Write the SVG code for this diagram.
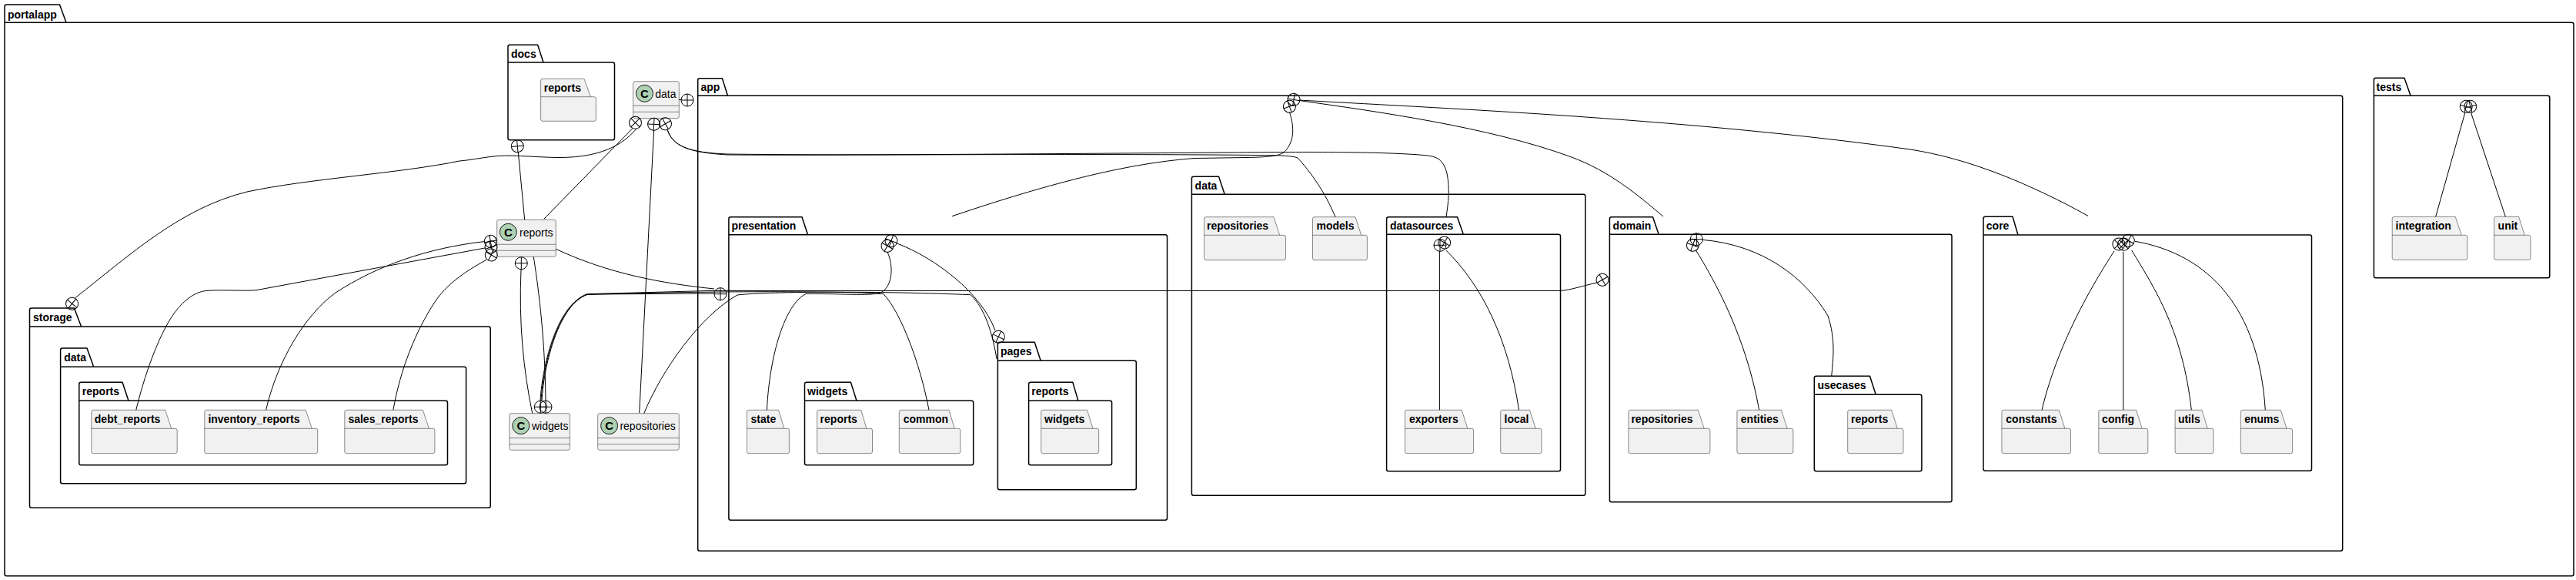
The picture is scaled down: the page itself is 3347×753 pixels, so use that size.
<svg xmlns="http://www.w3.org/2000/svg" width="3347" height="753" viewBox="0 0 3347 753">
<style>
.pkg{fill:#fff;stroke:#000;stroke-width:1.5;stroke-linejoin:round}
.leaf{fill:#F1F1F1;stroke:#181818;stroke-width:.5;stroke-linejoin:round}
.cls{fill:#F1F1F1;stroke:#181818;stroke-width:.5}
.div{fill:none;stroke:#181818;stroke-width:.5}
.spot{fill:#ADD1B2;stroke:#181818;stroke-width:1}
.pl{font:bold 14px "Liberation Sans",Arial,sans-serif;fill:#000;opacity:.999}
.cl{font:14px "Liberation Sans",Arial,sans-serif;fill:#000;opacity:.999}
.sp{font:bold 15px "Liberation Sans",Arial,sans-serif;fill:#000;text-anchor:middle;opacity:.999}
#connectors path{fill:none;stroke:#000;stroke-width:1}
#connectors circle{fill:none;stroke:#000;stroke-width:1}
</style>
<defs><g id="plus"><circle r="8"/><path d="M-8 0H8M0-8V8"/></g></defs>

<g id="pkg-portalapp"><path class="pkg" d="M6 8.5Q6 6 8.500 6H77.500L86 29.300H3341.500Q3344 29.300 3344 31.800V745.200Q3344 747.700 3341.500 747.700H8.500Q6 747.700 6 745.200ZM6 29.300H86"/><text class="pl" x="10" y="23.500">portalapp</text></g>
<g id="pkg-docs"><path class="pkg" d="M660 60.800Q660 58.300 662.500 58.300H698.600L706 81H796Q798.500 81 798.500 83.500V179.200Q798.500 181.700 796 181.700H662.500Q660 181.700 660 179.200ZM660 81H706"/><text class="pl" x="664" y="75">docs</text></g>
<g id="pkg-docs-reports"><path class="leaf" d="M702.600 104.800Q702.600 102.300 705.100 102.300H759L767.500 125.700H771.900Q774.400 125.700 774.400 128.200V154.800Q774.400 157.300 771.900 157.300H705.100Q702.600 157.300 702.600 154.800ZM702.600 125.700H767.500"/><text class="pl" x="706.700" y="119">reports</text></g>

<g id="cls-data"><rect class="cls" x="822.600" y="105.700" width="59.700" height="48" rx="2.500"/><path class="div" d="M822.600 137.300H882.300M822.600 145.300H882.300"/><circle class="spot" cx="837.500" cy="121.300" r="11"/><text class="sp" x="837.500" y="126.800">C</text><text class="cl" x="851.300" y="127">data</text></g>
<g id="cls-reports"><rect class="cls" x="645.700" y="285.300" width="76.600" height="48" rx="2.500"/><path class="div" d="M645.700 317.300H722.300M645.700 325.300H722.300"/><circle class="spot" cx="660.300" cy="301.300" r="11"/><text class="sp" x="660.300" y="306.800">C</text><text class="cl" x="675" y="306.700">reports</text></g>
<g id="cls-widgets"><rect class="cls" x="661.900" y="536.700" width="78.600" height="47.600" rx="2.500"/><path class="div" d="M661.900 568.700H740.500M661.900 576.700H740.500"/><circle class="spot" cx="676.800" cy="552.700" r="11"/><text class="sp" x="676.800" y="558.200">C</text><text class="cl" x="691" y="558">widgets</text></g>
<g id="cls-repositories"><rect class="cls" x="776.700" y="536.700" width="105.600" height="47.600" rx="2.500"/><path class="div" d="M776.700 568.700H882.300M776.700 576.700H882.300"/><circle class="spot" cx="791.600" cy="552.700" r="11"/><text class="sp" x="791.600" y="558.200">C</text><text class="cl" x="805.400" y="558">repositories</text></g>

<g id="pkg-storage"><path class="pkg" d="M38.500 402.500Q38.500 400 41 400H96.400L105.600 424H634.700Q637.200 424 637.200 426.500V656.800Q637.200 659.300 634.700 659.300H41Q38.500 659.300 38.500 656.800ZM38.500 424H105.600"/><text class="pl" x="43" y="417">storage</text></g>
<g id="pkg-storage-data"><path class="pkg" d="M78.600 454.500Q78.600 452 81.100 452H113L121.700 476.300H603.100Q605.600 476.300 605.600 478.800V625.200Q605.600 627.700 603.100 627.700H81.100Q78.600 627.700 78.600 625.200ZM78.600 476.300H121.700"/><text class="pl" x="83.200" y="469">data</text></g>
<g id="pkg-storage-data-reports"><path class="pkg" d="M102.800 498.800Q102.800 496.300 105.300 496.300H159L167 520.300H579Q581.500 520.300 581.500 522.800V601.200Q581.500 603.700 579 603.700H105.300Q102.800 603.700 102.800 601.200ZM102.800 520.300H167"/><text class="pl" x="106.800" y="513">reports</text></g>
<g id="pkg-debt_reports"><path class="leaf" d="M118.800 534.800Q118.800 532.300 121.300 532.300H214.700L222.700 556.300H227.700Q230.200 556.300 230.200 558.800V586.200Q230.200 588.700 227.700 588.700H121.300Q118.800 588.700 118.800 586.200ZM118.800 556.300H222.700"/><text class="pl" x="122.800" y="548.500">debt_reports</text></g>
<g id="pkg-inventory_reports"><path class="leaf" d="M265.800 534.800Q265.800 532.300 268.300 532.300H397.200L405.300 556.300H410.200Q412.700 556.300 412.700 558.800V586.200Q412.700 588.700 410.200 588.700H268.300Q265.800 588.700 265.800 586.200ZM265.800 556.300H405.300"/><text class="pl" x="270.400" y="548.500">inventory_reports</text></g>
<g id="pkg-sales_reports"><path class="leaf" d="M447.800 534.800Q447.800 532.300 450.300 532.300H549.400L557.400 556.300H562.400Q564.900 556.300 564.900 558.800V586.200Q564.900 588.700 562.400 588.700H450.300Q447.800 588.700 447.800 586.200ZM447.800 556.300H557.400"/><text class="pl" x="452.400" y="548.500">sales_reports</text></g>

<g id="pkg-app"><path class="pkg" d="M906.700 104.200Q906.700 101.700 909.200 101.700H938.400L945.500 124.300H3041.200Q3043.700 124.300 3043.700 126.800V712.800Q3043.700 715.300 3041.200 715.300H909.200Q906.700 715.300 906.700 712.800ZM906.700 124.300H945.500"/><text class="pl" x="910.500" y="118">app</text></g>
<g id="pkg-presentation"><path class="pkg" d="M946.900 284.200Q946.900 281.700 949.400 281.700H1042L1049.600 304.700H1514Q1516.500 304.700 1516.500 307.200V672.800Q1516.500 675.300 1514 675.300H949.400Q946.900 675.300 946.900 672.800ZM946.900 304.700H1049.600"/><text class="pl" x="950.400" y="298.300">presentation</text></g>
<g id="pkg-state"><path class="leaf" d="M970.500 534.800Q970.500 532.300 973 532.300H1011.600L1018.800 556.300H1022.900Q1025.400 556.300 1025.400 558.800V586.200Q1025.400 588.700 1022.900 588.700H973Q970.500 588.700 970.500 586.200ZM970.500 556.300H1018.800"/><text class="pl" x="975.500" y="548.500">state</text></g>
<g id="pkg-presentation-widgets"><path class="pkg" d="M1045.500 498.800Q1045.500 496.300 1048 496.300H1105.400L1113 520.300H1262.200Q1264.700 520.300 1264.700 522.800V601.200Q1264.700 603.700 1262.200 603.700H1048Q1045.500 603.700 1045.500 601.200ZM1045.500 520.300H1113"/><text class="pl" x="1049.100" y="513">widgets</text></g>
<g id="pkg-presentation-widgets-reports"><path class="leaf" d="M1061.600 534.800Q1061.600 532.300 1064.100 532.300H1118.800L1125.900 556.300H1131Q1133.500 556.300 1133.500 558.800V586.200Q1133.500 588.700 1131 588.700H1064.100Q1061.600 588.700 1061.600 586.200ZM1061.600 556.300H1125.900"/><text class="pl" x="1065.600" y="548.500">reports</text></g>
<g id="pkg-common"><path class="leaf" d="M1168.300 534.800Q1168.300 532.300 1170.800 532.300H1233L1240.200 556.300H1245.300Q1247.800 556.300 1247.800 558.800V586.200Q1247.800 588.700 1245.300 588.700H1170.800Q1168.300 588.700 1168.300 586.200ZM1168.300 556.300H1240.200"/><text class="pl" x="1173.700" y="548.500">common</text></g>
<g id="pkg-pages"><path class="pkg" d="M1296.400 446.800Q1296.400 444.300 1298.900 444.300H1344.200L1352.200 468.300H1473.800Q1476.300 468.300 1476.300 470.800V633.200Q1476.300 635.700 1473.800 635.700H1298.900Q1296.400 635.700 1296.400 633.200ZM1296.400 468.300H1352.200"/><text class="pl" x="1300" y="461">pages</text></g>
<g id="pkg-pages-reports"><path class="pkg" d="M1336.600 498.800Q1336.600 496.300 1339.100 496.300H1393.800L1400.900 520.300H1442.100Q1444.600 520.300 1444.600 522.800V601.200Q1444.600 603.700 1442.100 603.700H1339.100Q1336.600 603.700 1336.600 601.200ZM1336.600 520.300H1400.900"/><text class="pl" x="1340.200" y="513">reports</text></g>
<g id="pkg-pages-reports-widgets"><path class="leaf" d="M1352.700 534.800Q1352.700 532.300 1355.200 532.300H1412.500L1420 556.300H1425.200Q1427.700 556.300 1427.700 558.800V586.200Q1427.700 588.700 1425.200 588.700H1355.200Q1352.700 588.700 1352.700 586.200ZM1352.700 556.300H1420"/><text class="pl" x="1357.100" y="548.500">widgets</text></g>

<g id="pkg-app-data"><path class="pkg" d="M1548.400 231.800Q1548.400 229.300 1550.900 229.300H1583.500L1591.200 252.300H2057.300Q2059.800 252.300 2059.800 254.800V640.800Q2059.800 643.300 2057.300 643.300H1550.900Q1548.400 643.300 1548.400 640.800ZM1548.400 252.300H1591.200"/><text class="pl" x="1552.600" y="246">data</text></g>
<g id="pkg-data-repositories"><path class="leaf" d="M1564.500 284.200Q1564.500 281.700 1567 281.700H1655L1662.700 305.300H1668Q1670.500 305.300 1670.500 307.800V335.200Q1670.500 337.700 1668 337.700H1567Q1564.500 337.700 1564.500 335.200ZM1564.500 305.300H1662.700"/><text class="pl" x="1568" y="297.700">repositories</text></g>
<g id="pkg-models"><path class="leaf" d="M1705.500 284.200Q1705.500 281.700 1708 281.700H1761L1768.700 305.300H1773.900Q1776.400 305.300 1776.400 307.800V335.200Q1776.400 337.700 1773.900 337.700H1708Q1705.500 337.700 1705.500 335.200ZM1705.500 305.300H1768.700"/><text class="pl" x="1710.500" y="297.700">models</text></g>
<g id="pkg-datasources"><path class="pkg" d="M1801.600 284.200Q1801.600 281.700 1804.100 281.700H1893.500L1901.300 304.300H2025Q2027.500 304.300 2027.500 306.800V609.200Q2027.500 611.700 2025 611.700H1804.100Q1801.600 611.700 1801.600 609.200ZM1801.600 304.300H1901.300"/><text class="pl" x="1805.900" y="297.700">datasources</text></g>
<g id="pkg-exporters"><path class="leaf" d="M1825.500 534.800Q1825.500 532.300 1828 532.300H1899.200L1906.900 556.300H1912.100Q1914.600 556.300 1914.600 558.800V586.200Q1914.600 588.700 1912.100 588.700H1828Q1825.500 588.700 1825.500 586.200ZM1825.500 556.300H1906.900"/><text class="pl" x="1831" y="548.500">exporters</text></g>
<g id="pkg-local"><path class="leaf" d="M1949.700 534.800Q1949.700 532.300 1952.200 532.300H1987.500L1995.300 556.300H2000.500Q2003 556.300 2003 558.800V586.200Q2003 588.700 2000.500 588.700H1952.200Q1949.700 588.700 1949.700 586.200ZM1949.700 556.300H1995.300"/><text class="pl" x="1954.600" y="548.500">local</text></g>

<g id="pkg-domain"><path class="pkg" d="M2091.400 284.200Q2091.400 281.700 2093.900 281.700H2147.500L2155.200 304.300H2533.500Q2536 304.300 2536 306.800V649.200Q2536 651.700 2533.500 651.700H2093.900Q2091.400 651.700 2091.400 649.200ZM2091.400 304.300H2155.200"/><text class="pl" x="2095.600" y="297.700">domain</text></g>
<g id="pkg-domain-repositories"><path class="leaf" d="M2115.900 534.800Q2115.900 532.300 2118.400 532.300H2206.400L2214.100 556.300H2219.400Q2221.900 556.300 2221.900 558.800V586.200Q2221.900 588.700 2219.400 588.700H2118.400Q2115.900 588.700 2115.900 586.200ZM2115.900 556.300H2214.100"/><text class="pl" x="2119.400" y="548.500">repositories</text></g>
<g id="pkg-entities"><path class="leaf" d="M2256.900 534.800Q2256.900 532.300 2259.400 532.300H2314.400L2322.200 556.300H2327.400Q2329.900 556.300 2329.900 558.800V586.200Q2329.900 588.700 2327.400 588.700H2259.400Q2256.900 588.700 2256.900 586.200ZM2256.900 556.300H2322.200"/><text class="pl" x="2261.800" y="548.500">entities</text></g>
<g id="pkg-usecases"><path class="pkg" d="M2357.300 490.800Q2357.300 488.300 2359.800 488.300H2429.500L2437.200 512.300H2494.400Q2496.900 512.300 2496.900 514.800V609.200Q2496.900 611.700 2494.400 611.700H2359.800Q2357.300 611.700 2357.300 609.200ZM2357.300 512.300H2437.200"/><text class="pl" x="2361.500" y="505">usecases</text></g>
<g id="pkg-usecases-reports"><path class="leaf" d="M2400.700 534.800Q2400.700 532.300 2403.200 532.300H2457.600L2465.300 556.300H2470.500Q2473 556.300 2473 558.800V586.200Q2473 588.700 2470.500 588.700H2403.200Q2400.700 588.700 2400.700 586.200ZM2400.700 556.300H2465.300"/><text class="pl" x="2405" y="548.500">reports</text></g>

<g id="pkg-core"><path class="pkg" d="M2577 283.800Q2577 281.300 2579.500 281.300H2615L2622 305H3001Q3003.500 305 3003.500 307.500V608.800Q3003.500 611.300 3001 611.300H2579.500Q2577 611.300 2577 608.800ZM2577 305H2622"/><text class="pl" x="2580.800" y="297.700">core</text></g>
<g id="pkg-constants"><path class="leaf" d="M2600.900 534.800Q2600.900 532.300 2603.400 532.300H2675.300L2682.900 556.300H2688Q2690.500 556.300 2690.500 558.800V586.200Q2690.500 588.700 2688 588.700H2603.400Q2600.900 588.700 2600.900 586.200ZM2600.900 556.300H2682.900"/><text class="pl" x="2606.300" y="548.500">constants</text></g>
<g id="pkg-config"><path class="leaf" d="M2726.800 534.800Q2726.800 532.300 2729.300 532.300H2775.600L2783.200 556.300H2788.300Q2790.800 556.300 2790.800 558.800V586.200Q2790.800 588.700 2788.300 588.700H2729.300Q2726.800 588.700 2726.800 586.200ZM2726.800 556.300H2783.200"/><text class="pl" x="2731.100" y="548.500">config</text></g>
<g id="pkg-utils"><path class="leaf" d="M2826.100 534.800Q2826.100 532.300 2828.600 532.300H2860.800L2868.400 556.300H2873.500Q2876 556.300 2876 558.800V586.200Q2876 588.700 2873.500 588.700H2828.600Q2826.100 588.700 2826.100 586.200ZM2826.100 556.300H2868.400"/><text class="pl" x="2829.900" y="548.500">utils</text></g>
<g id="pkg-enums"><path class="leaf" d="M2911.300 534.800Q2911.300 532.300 2913.800 532.300H2963.400L2971 556.300H2976.100Q2978.600 556.300 2978.600 558.800V586.200Q2978.600 588.700 2976.100 588.700H2913.800Q2911.300 588.700 2911.300 586.200ZM2911.300 556.300H2971"/><text class="pl" x="2916.200" y="548.500">enums</text></g>

<g id="pkg-tests"><path class="pkg" d="M3084.400 103.800Q3084.400 101.300 3086.900 101.300H3124L3132.100 124.300H3310.300Q3312.800 124.300 3312.800 126.800V358.200Q3312.800 360.700 3310.300 360.700H3086.900Q3084.400 360.700 3084.400 358.200ZM3084.400 124.300H3132.100"/><text class="pl" x="3087.600" y="117.700">tests</text></g>
<g id="pkg-integration"><path class="leaf" d="M3108.200 283.800Q3108.200 281.300 3110.700 281.300H3190.200L3198.300 305.300H3203.400Q3205.900 305.300 3205.900 307.800V334.800Q3205.900 337.300 3203.400 337.300H3110.700Q3108.200 337.300 3108.200 334.800ZM3108.200 305.300H3198.300"/><text class="pl" x="3112.600" y="297.500">integration</text></g>
<g id="pkg-unit"><path class="leaf" d="M3240.600 283.800Q3240.600 281.300 3243.100 281.300H3272.600L3280.300 305.300H3285.400Q3287.900 305.300 3287.900 307.800V334.800Q3287.900 337.300 3285.400 337.300H3243.100Q3240.600 337.300 3240.600 334.800ZM3240.600 305.300H3280.300"/><text class="pl" x="3245.600" y="297.500">unit</text></g>

<g id="connectors">
<path d="M673.300 197.700L681.700 285.300"/>
<path d="M822 166.500L706.700 284.300"/>
<path d="M827 167C815 181 790 205 725 204.500C690 204 660 200 637 203.500C625 205 610 208 597 209C520 225 400 232 321 249C235 270 170 330 98 386.500"/>
<path d="M849.600 169L830.700 536"/>
<path d="M882.300 129.500H885"/>
<path d="M867 168C874 190 895 198 945 200C1100 202 1300 200 1600 198C1700 197 1800 197 1850 201.500C1868 203 1875 207 1880 225C1884 245 1882 262 1879 281.700"/>
<path d="M867 168C874 190 895 198 945 201C1100 202 1400 199 1654 201.700C1670 202 1682 203 1686 205C1702 222 1722 250 1735 281.700"/>
<path d="M1675.500 146C1682 165 1682 185 1668 198C1660 203 1645 204 1620 204.500L1552 205.500C1480 211 1390 229 1237 280.700"/>
<path d="M1688 130.500C1790 145 1935 165 2040 203.300C2092 222 2130 255 2161 281"/>
<path d="M1688 130C1900 142 2200 155 2482 194C2560 206 2640 240 2713 280.300"/>
<path d="M702 520C705 470 725 395 763 381.700L920 377.500H2026C2040 377 2060 370 2075 367"/>
<path d="M703 520C706 470 726 395 763 382L928 381"/>
<path d="M704 520C707 470 727 395 763 382.500C900 378 1050 378 1120 380L1148 381.700C1170 405 1195 470 1207 532.300"/>
<path d="M693.300 333.300C698 365 708 430 709 520"/>
<path d="M677 349.700C674 420 680 480 691.700 536.700"/>
<path d="M836.700 536.700C860 480 910 410 958 383C1000 378 1150 378 1261 382.700C1280 400 1290 435 1295 466"/>
<path d="M1153 327C1161 345 1160 370 1146 379C1135 385 1100 381 1047 381.500C1020 395 1000 460 996.400 532.300"/>
<path d="M1165.600 316C1215 335 1275 380 1293 429"/>
<path d="M722.300 323.300C790 355 860 368 928 375"/>
<path d="M630 313.500C555 322 490 345 436 380C395 410 360 470 345.600 532.300"/>
<path d="M630 322L333 376.700C320 378 290 376 270 377.300C255 378 240 388 226 407C205 437 187 490 176.800 532.300"/>
<path d="M632 337.300C600 355 580 370 565 392C540 430 520 480 510.900 532.300"/>
<path d="M1870.400 326V532.300"/>
<path d="M1878.800 325C1925 370 1960 440 1973.500 532.300"/>
<path d="M2203.600 325C2228 365 2268 435 2285.700 532.300"/>
<path d="M2212 311.300C2290 318 2345 360 2375 410C2385 440 2382 465 2379.700 488.300"/>
<path d="M2747 326C2725 360 2675 440 2653 532.300"/>
<path d="M2758.800 326.700V532.300"/>
<path d="M2769.700 325C2800 375 2836 430 2847.300 532.300"/>
<path d="M2774 313.300C2870 330 2935 400 2943.300 532.300"/>
<path d="M3202.700 146.700L3164.700 281.300"/>
<path d="M3210.700 146.700L3255.300 281.300"/>
<g fill="none" stroke="#000">
<use href="#plus" transform="translate(672.300 189.700) rotate(-5)"/>
<use href="#plus" transform="translate(825.500 159.300) rotate(45)"/>
<use href="#plus" transform="translate(849.600 161.300) rotate(3)"/>
<use href="#plus" transform="translate(864.500 160.700) rotate(-30)"/>
<use href="#plus" transform="translate(893 130)"/>
<use href="#plus" transform="translate(93.600 394.300) rotate(40)"/>
<use href="#plus" transform="translate(637.300 313.300) rotate(-10)"/>
<use href="#plus" transform="translate(638 320.700) rotate(-20)"/>
<use href="#plus" transform="translate(638.300 331) rotate(30)"/>
<use href="#plus" transform="translate(677.300 341.700)"/>
<use href="#plus" transform="translate(702.300 528.300)"/>
<use href="#plus" transform="translate(709 528.300)"/>
<use href="#plus" transform="translate(936 381.700)"/>
<use href="#plus" transform="translate(1297.300 437.300) rotate(25)"/>
<use href="#plus" transform="translate(1158 312.700) rotate(20)"/>
<use href="#plus" transform="translate(1153 319.300) rotate(30)"/>
<use href="#plus" transform="translate(1681 129.300) rotate(10)"/>
<use href="#plus" transform="translate(1675.400 138.300) rotate(-20)"/>
<use href="#plus" transform="translate(2082 363.300) rotate(-30)"/>
<use href="#plus" transform="translate(1876.700 315) rotate(30)"/>
<use href="#plus" transform="translate(1871 318.300)"/>
<use href="#plus" transform="translate(2204.300 310.700)"/>
<use href="#plus" transform="translate(2199.400 318.300) rotate(20)"/>
<use href="#plus" transform="translate(2752.900 317) rotate(45)"/>
<use href="#plus" transform="translate(2759.400 317.300) rotate(45)"/>
<use href="#plus" transform="translate(2765.300 312.300) rotate(30)"/>
<use href="#plus" transform="translate(3204.200 138.300) rotate(15)"/>
<use href="#plus" transform="translate(3209.800 138.300) rotate(-15)"/>
</g>
</g>
</svg>
